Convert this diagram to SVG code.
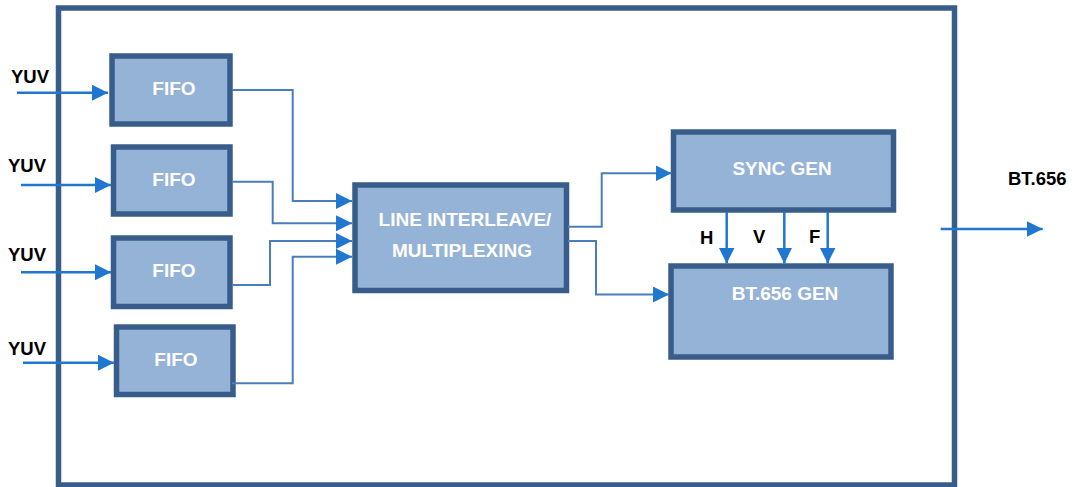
<svg xmlns="http://www.w3.org/2000/svg" width="1076" height="487" viewBox="0 0 1076 487">
<defs>
<style>
.box{fill:#95b3d7;stroke:#385d8a;stroke-width:5.5}
.frame{fill:none;stroke:#385d8a;stroke-width:5.5}
.bt{font-family:"Liberation Sans",Arial,sans-serif;font-weight:bold;font-size:19px;fill:#ffffff;text-anchor:middle}
.lbl{font-family:"Liberation Sans",Arial,sans-serif;font-weight:bold;font-size:18.5px;fill:#000000}
.arr{fill:none;stroke:#1f77d0;stroke-width:2.5}
.con{fill:none;stroke:#4a7ebb;stroke-width:2}
</style>
<marker id="ah" markerUnits="userSpaceOnUse" markerWidth="17" markerHeight="16" refX="16" refY="8" orient="auto">
<path d="M0,0 L16,8 L0,16 Z" fill="#1f77d0"/>
</marker>
</defs>
<rect class="frame" x="58.5" y="8" width="896" height="477"/>
<g id="fifo1"><rect class="box" x="112" y="56" width="118" height="68"/><text class="bt" x="174" y="95">FIFO</text></g>
<g id="fifo2"><rect class="box" x="113.5" y="147" width="116.5" height="67"/><text class="bt" x="174" y="186">FIFO</text></g>
<g id="fifo3"><rect class="box" x="113.5" y="238" width="116.5" height="68.5"/><text class="bt" x="174" y="277">FIFO</text></g>
<g id="fifo4"><rect class="box" x="116.5" y="327" width="116.5" height="67.5"/><text class="bt" x="176" y="366">FIFO</text></g>
<g id="interleave"><rect class="box" x="355" y="185" width="211.5" height="105.5"/><text class="bt" x="465" y="226">LINE INTERLEAVE/</text><text class="bt" x="462" y="257">MULTIPLEXING</text></g>
<g id="syncgen"><rect class="box" x="673.5" y="132" width="220" height="78"/><text class="bt" x="782" y="175">SYNC GEN</text></g>
<g id="btgen"><rect class="box" x="671" y="266" width="220" height="91"/><text class="bt" x="785" y="300">BT.656 GEN</text></g>
<g id="labels">
<text class="lbl" x="11" y="83">YUV</text>
<text class="lbl" x="8" y="172">YUV</text>
<text class="lbl" x="8" y="261">YUV</text>
<text class="lbl" x="8" y="355">YUV</text>
<text class="lbl" x="700" y="244">H</text>
<text class="lbl" x="753" y="243">V</text>
<text class="lbl" x="809" y="243">F</text>
<text class="lbl" x="1008" y="185">BT.656</text>
</g>
<g id="connectors">
<path class="arr" d="M17,92.7 H108" marker-end="url(#ah)"/>
<path class="arr" d="M21,185 H111" marker-end="url(#ah)"/>
<path class="arr" d="M21,272.3 H111" marker-end="url(#ah)"/>
<path class="arr" d="M23,362.7 H114" marker-end="url(#ah)"/>
<path class="con" d="M232,90 H292.7 V201 H352" marker-end="url(#ah)"/>
<path class="con" d="M232,181.7 H272.7 V223.3 H352" marker-end="url(#ah)"/>
<path class="con" d="M232,285 H270 V241 H352" marker-end="url(#ah)"/>
<path class="con" d="M232,383.3 H292.7 V256.7 H352" marker-end="url(#ah)"/>
<path class="con" d="M568,226.7 H601.7 V173.3 H671.5" marker-end="url(#ah)"/>
<path class="con" d="M568,241 H596 V294.5 H669" marker-end="url(#ah)"/>
<path class="arr" d="M726.7,212 V263.5" marker-end="url(#ah)"/>
<path class="arr" d="M784.3,212 V263.5" marker-end="url(#ah)"/>
<path class="arr" d="M827.7,212 V263.5" marker-end="url(#ah)"/>
<path class="arr" d="M940.7,229 H1042.7" marker-end="url(#ah)"/>
</g>
</svg>
